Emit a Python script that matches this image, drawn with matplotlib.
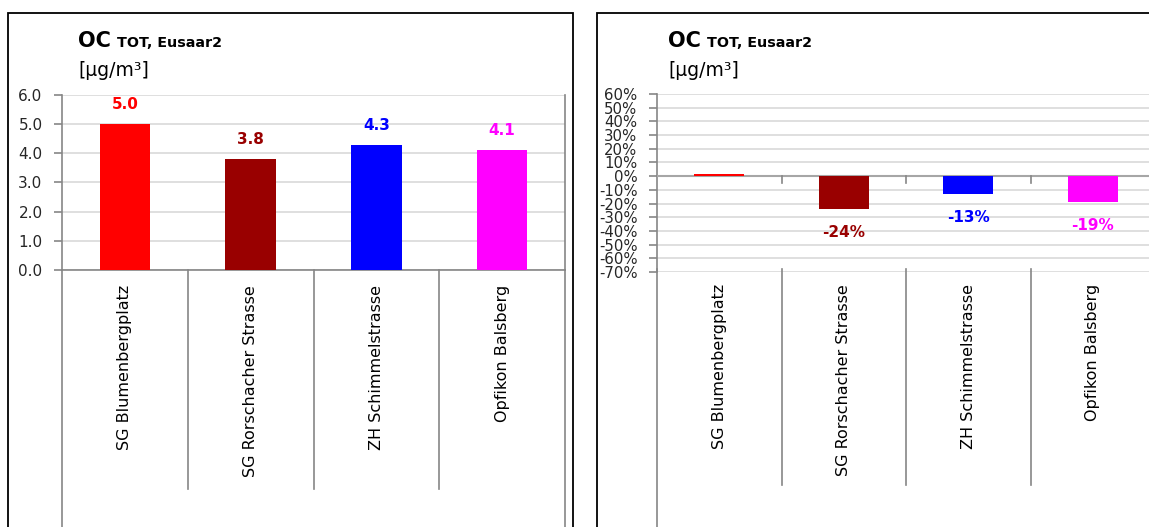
import matplotlib.pyplot as plt
from matplotlib.patches import Rectangle
from matplotlib.lines import Line2D
import numpy as np

plt.rcParams['font.family'] = ['DejaVu Sans']

stations = ["SG Blumenbergplatz", "SG Rorschacher Strasse", "ZH Schimmelstrasse", "Opfikon Balsberg"]
bar_colors = ["#FF0000", "#990000", "#0000FF", "#FF00FF"]

# OC concentration per station
oc_conc = [5.0, 3.8, 4.3, 4.1]
conc_ticks = [0.0, 1.0, 2.0, 3.0, 4.0, 5.0, 6.0]

# relative difference to reference, in percent
oc_diff = [1.5, -24, -13, -19]
diff_labels = ["", "-24%", "-13%", "-19%"]
diff_ticks = list(range(-70, 61, 10))

W, H = 1149, 527
fig = plt.figure(figsize=(W / 100, H / 100), dpi=100)

GRID = "#D9D9D9"
AXC = "#868686"
TXT = "#262626"


def px_axes(x0, y0, x1, y1):
    return fig.add_axes([x0 / W, 1 - y1 / H, (x1 - x0) / W, (y1 - y0) / H])


def frame(x0, y0, x1, y1):
    fig.patches.append(Rectangle((x0 / W, 1 - y1 / H), (x1 - x0) / W, (y1 - y0) / H,
                                 transform=fig.transFigure, fill=False,
                                 edgecolor="black", lw=1.3, clip_on=False))


def title(x, y):
    fig.text(x / W, 1 - y / H, "OC", fontsize=15, fontweight="bold", color="black", va="baseline")
    fig.text((x + 39) / W, 1 - y / H, "TOT, Eusaar2", fontsize=10.3, fontweight="bold",
             color="black", va="baseline")
    fig.text(x / W, 1 - (y + 29) / H, "[µg/m³]", fontsize=13.5, color="black", va="baseline")


def category_area(ax, bottom_px, top_px, x_left, x_right):
    # lines below the plot: axis extension, right border and the category dividers
    n = len(stations)
    y_top = 1 - top_px / H
    y_bot = 1 - bottom_px / H
    fig.lines.append(Line2D([x_left / W] * 2, [y_top, -0.05], transform=fig.transFigure,
                            color=AXC, lw=1.2))
    if x_right is not None:
        fig.lines.append(Line2D([x_right / W] * 2, [y_top, -0.05], transform=fig.transFigure,
                                color=AXC, lw=1.2))
    for i in range(1, n):
        xd = ax.transData.transform((i - 0.5, 0))[0] / W
        fig.lines.append(Line2D([xd, xd], [y_top, y_bot], transform=fig.transFigure,
                                color=AXC, lw=1.2))
    for i, name in enumerate(stations):
        xc = ax.transData.transform((i, 0))[0] / W
        fig.text(xc, 1 - (top_px + 15) / H, name, rotation=90, ha="center", va="top",
                 fontsize=11.5, color="black")


frame(8, 13, 573, 560)
frame(597, 13, 1200, 560)
title(78, 47)
title(668, 47)

x = np.arange(len(stations))

# left: concentrations
ax1 = px_axes(62, 95, 565, 270)
ax1.bar(x, oc_conc, width=0.4, color=bar_colors, zorder=3)
ax1.set_xlim(-0.5, len(stations) - 0.5)
ax1.set_ylim(0, 6)
ax1.set_yticks(conc_ticks)
ax1.set_yticklabels([f"{t:.1f}" for t in conc_ticks], fontsize=11, color=TXT)
ax1.set_xticks([])
ax1.yaxis.grid(True, color=GRID, lw=1.2, zorder=0)
ax1.tick_params(axis="y", length=6, width=1.2, color=AXC, pad=8)
ax1.spines["top"].set_visible(False)
for s in ["left", "right", "bottom"]:
    ax1.spines[s].set_color(AXC)
    ax1.spines[s].set_linewidth(1.2)
for xi, v, c in zip(x, oc_conc, bar_colors):
    ax1.annotate(f"{v:.1f}", (xi, v), xytext=(0, 14), textcoords="offset points",
                 ha="center", va="center", fontsize=11, fontweight="bold", color=c)
category_area(ax1, 489, 270, 62, 565)

# right: relative difference
ax2 = px_axes(657, 94, 1155, 272)
ax2.bar(x, oc_diff, width=0.4, color=bar_colors, zorder=5)
ax2.set_xlim(-0.5, len(stations) - 0.5)
ax2.set_ylim(-70, 60)
ax2.set_yticks(diff_ticks)
ax2.set_yticklabels([f"{t}%" for t in diff_ticks], fontsize=10.7, color=TXT)
ax2.set_xticks([])
ax2.yaxis.grid(True, color=GRID, lw=1.2, zorder=0)
ax2.tick_params(axis="y", length=6, width=1.2, color=AXC, pad=8)
for s in ["top", "right", "bottom"]:
    ax2.spines[s].set_visible(False)
ax2.spines["left"].set_color(AXC)
ax2.spines["left"].set_linewidth(1.2)
ax2.axhline(0, color="#A6A6A6", lw=1.5, zorder=4)
for i in range(1, len(stations)):
    ax2.plot([i - 0.5, i - 0.5], [0, -5], color=AXC, lw=1.2, zorder=4)
for xi, v, c, lab in zip(x, oc_diff, bar_colors, diff_labels):
    if lab:
        ax2.annotate(lab, (xi, v), xytext=(0, -17), textcoords="offset points",
                     ha="center", va="center", fontsize=11, fontweight="bold", color=c)
category_area(ax2, 485, 269, 657, None)

fig.savefig("out.png", dpi=100)
